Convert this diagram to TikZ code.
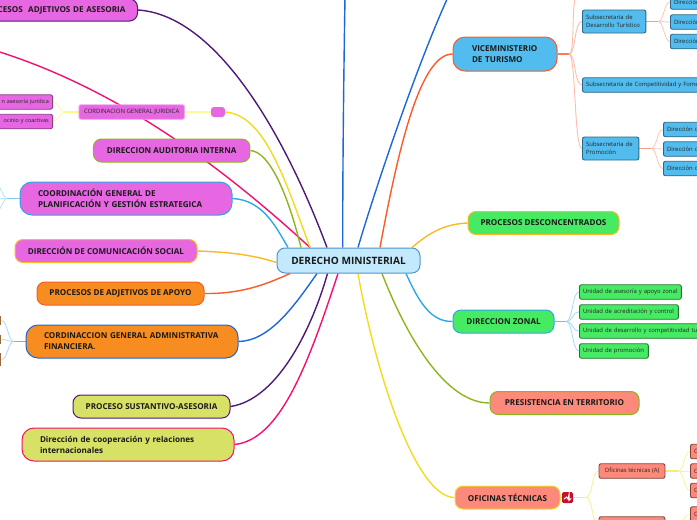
\documentclass[tikz,border=0pt]{standalone}
\usepackage{fontspec}
\setmainfont{Open Sans}
\usetikzlibrary{backgrounds}
\definecolor{cielo}{HTML}{C3E9FC}
\definecolor{marco}{HTML}{4F94CF}
\definecolor{magenta1}{HTML}{E766E2}
\definecolor{naranja}{HTML}{F78C20}
\definecolor{limon}{HTML}{D7E166}
\definecolor{azul1}{HTML}{52BCEE}
\definecolor{verde1}{HTML}{46EB63}
\definecolor{salmon1}{HTML}{FD897A}
\definecolor{morado}{HTML}{4E1A78}
\definecolor{rosa}{HTML}{F50F70}
\definecolor{amarillo}{HTML}{F3DC1C}
\definecolor{oliva}{HTML}{8DB51E}
\definecolor{celeste}{HTML}{2BA9E6}
\definecolor{oro}{HTML}{FDB924}
\definecolor{coral}{HTML}{FC5A28}
\definecolor{rey}{HTML}{1C68D8}
\definecolor{cafe}{HTML}{9A6A3A}
\definecolor{rojo1}{HTML}{C8102E}
\tikzset{
	box1/.style={
		rectangle,
		rounded corners=8pt,
		line width=1pt,
		inner sep=0pt,
		minimum height=23pt,
		font=\fontsize{8.1}{11}\selectfont\bfseries,
		text=black!90,
		align=center},
	box2/.style={
		box1,
		rounded corners=12pt,
		minimum height=33pt,
		inner xsep=18pt,
		align=left},
	box3/.style={
		rectangle,
		rounded corners=2pt,
		line width=.9pt,
		inner xsep=3.7pt,
		inner ysep=0pt,
		minimum height=14.5pt,
		font=\fontsize{5.9}{8}\selectfont,
		text=black!85,
		align=left},
	rama/.style={line width=1.4pt},
	hilo/.style={line width=.9pt},
	talo/.style={line width=1.3pt}
}
\begin{document}
\begin{tikzpicture}[x=1pt,y=-1pt]
\useasboundingbox (0,0) rectangle (697,520);
\node[box1, fill=cielo, draw=marco, minimum width=143pt, minimum height=25pt, font=\fontsize{10.1}{11}\selectfont\bfseries] (dm) at (348.5,260.5) {DERECHO MINISTERIAL};
% lado izquierdo
\node[box1, fill=magenta1, draw=morado, anchor=east, text width=186pt, inner xsep=12pt, align=right, minimum height=22pt] (asesoria) at (138,10) {CESOS\ \ ADJETIVOS DE ASESORIA};
\node[box3, fill=magenta1, draw=magenta1!60!white, minimum width=105.5pt, align=center, font=\fontsize{6}{8}\selectfont] (juridica) at (131.7,112) {CORDINACION GENERAL JURIDICA};
\node[fill=magenta1, rounded corners=3pt, minimum width=14pt, minimum height=10pt, inner sep=0pt] (punto) at (218,112) {};
\node[box3, fill=magenta1, draw=magenta1!60!black, anchor=east, text width=70pt, align=right, font=\fontsize{5.5}{8}\selectfont] (jur1) at (53,102) {n asesoría jurídica};
\node[box3, fill=magenta1, draw=magenta1!60!black, anchor=east, text width=70pt, align=right, font=\fontsize{5.5}{8}\selectfont] (jur2) at (53,121.5) {ocinio y coactivas};
\node[box1, fill=magenta1, draw=oliva, minimum width=156.5pt] (auditoria) at (171.7,150.5) {DIRECCION AUDITORIA INTERNA};
\node[box2, fill=magenta1, draw=celeste, text width=176pt] (planif) at (126,198.5) {COORDINACIÓN GENERAL DE\\PLANIFICACIÓN Y GESTIÓN ESTRATEGICA};
\node[box1, fill=magenta1, draw=oro, minimum width=182pt] (comunic) at (106,251) {DIRECCIÓN DE COMUNICACIÓN SOCIAL};
\node[box1, fill=naranja, draw=coral, minimum width=167pt] (apoyo) at (120.5,293.5) {PROCESOS DE ADJETIVOS DE APOYO};
\node[box2, fill=naranja, draw=rey, text width=176pt] (financiera) at (132,341.5) {CORDINACCION GENERAL ADMINISTRATIVA\\FINANCIERA.};
\node[fill=cafe, anchor=east, minimum width=6pt, minimum height=9pt, inner sep=0pt] (fin1) at (1.5,320.5) {};
\node[fill=cafe, anchor=east, minimum width=6pt, minimum height=9pt, inner sep=0pt] (fin2) at (1.5,339.5) {};
\node[fill=cafe, anchor=east, minimum width=6pt, minimum height=13pt, inner sep=0pt] (fin3) at (1.5,359.5) {};
\node[box1, fill=limon, draw=morado, minimum width=157pt] (sustantivo) at (151.5,406.5) {PROCESO SUSTANTIVO-ASESORIA};
\node[box2, fill=limon, draw=rosa, text width=176pt] (cooperacion) at (128,444.5) {Dirección de cooperación y relaciones\\internacionales};
% lado derecho
\node[box2, fill=azul1, draw=coral, inner xsep=19pt, text width=66pt, minimum height=34pt] (vice) at (505,54) {VICEMINISTERIO\\DE TURISMO};
\node[box3, fill=azul1, draw=azul1!55!black, minimum height=23pt, anchor=west, text width=56pt] (desarrollo) at (582,21.5) {Subsecretaria de\\Desarrollo Turístico};
\node[box3, fill=azul1, draw=azul1!55!black, anchor=west, text width=170pt] (compet) at (582,85) {Subsecretaria de Competitividad y Fomento};
\node[box3, fill=azul1, draw=azul1!55!black, minimum height=23pt, anchor=west, text width=49pt] (promocion) at (582,148.5) {Subsecretaria de\\Promoción};
\node[box3, fill=azul1, draw=azul1!55!black, anchor=west, text width=50pt] (des1) at (670,2) {Dirección de};
\node[box3, fill=azul1, draw=azul1!55!black, anchor=west, text width=50pt] (des2) at (670,22) {Dirección de};
\node[box3, fill=azul1, draw=azul1!55!black, anchor=west, text width=50pt] (des3) at (670,41.5) {Dirección de};
\node[box3, fill=azul1, draw=azul1!55!black, anchor=west, text width=50pt] (pro1) at (663,129.5) {Dirección de};
\node[box3, fill=azul1, draw=azul1!55!black, anchor=west, text width=50pt] (pro2) at (663,149) {Dirección de};
\node[box3, fill=azul1, draw=azul1!55!black, anchor=west, text width=50pt] (pro3) at (663,168.5) {Dirección de};
\node[box1, fill=verde1, draw=oro, minimum width=151pt] (descon) at (543.5,223) {PROCESOS DESCONCENTRADOS};
\node[box1, fill=verde1, draw=celeste, minimum width=101pt] (zonal) at (503.5,321.5) {DIRECCION ZONAL};
\node[box3, fill=verde1, draw=verde1!50!black, anchor=west, text width=94.5pt] (uni1) at (579,292) {Unidad de asesoría y apoyo zonal};
\node[box3, fill=verde1, draw=verde1!50!black, anchor=west, text width=91.5pt] (uni2) at (579,312) {Unidad de acreditación y control};
\node[box3, fill=verde1, draw=verde1!50!black, anchor=west, text width=140pt] (uni3) at (579,331) {Unidad de desarrollo y competitividad tu};
\node[box3, fill=verde1, draw=verde1!50!black, anchor=west, text width=61.5pt] (uni4) at (579,351) {Unidad de promoción};
\node[box1, fill=salmon1, draw=oliva, minimum width=149pt] (presist) at (564.5,403) {PRESISTENCIA EN TERRITORIO};
\node[box1, fill=salmon1, draw=amarillo, minimum width=105pt] (oficinas) at (507.5,497.5) {OFICINAS TÉCNICAS};
\node[fill=rojo1, rounded corners=1.5pt, minimum width=11pt, minimum height=11pt, inner sep=0pt] (icono) at (567.5,497.5) {};
\node[box3, fill=salmon1, draw=salmon1!50!black, minimum width=66pt, align=center] (ofa) at (632,471) {Oficinas técnicas (A)};
\node[box3, fill=salmon1, draw=salmon1!50!black, minimum width=66pt] (ofb) at (632,524) {};
\node[box3, fill=salmon1, draw=salmon1!50!black, anchor=west, text width=40pt] (ofa1) at (690,451.5) {Oficina};
\node[box3, fill=salmon1, draw=salmon1!50!black, anchor=west, text width=40pt] (ofa2) at (690,471) {Oficina};
\node[box3, fill=salmon1, draw=salmon1!50!black, anchor=west, text width=40pt] (ofa3) at (690,490.5) {Oficina};
\node[box3, fill=salmon1, draw=salmon1!50!black, anchor=west, text width=40pt] (ofb1) at (690,514) {Oficina};
\draw[white, line width=1pt, line cap=round] ([shift={(-3.5,1.5)}]icono.center) -- ([shift={(-1,-.5)}]icono.center) -- ([shift={(.5,1.5)}]icono.center) -- ([shift={(1.5,-3)}]icono.center) -- ([shift={(1.5,3)}]icono.center) -- ([shift={(3.5,1)}]icono.center);
% puntos libres
\coordinate (librepink) at (-10,49);
\coordinate (libreazul) at (345,-3);
\coordinate (libreazul2) at (448,-3);
\coordinate (planif1) at (-5,180);
\coordinate (planif2) at (-5,199);
\coordinate (planif3) at (-5,216);
\coordinate (desarriba) at (578,-5);
\coordinate (hubjur) at (65,112);
\coordinate (hubplan) at (7,198.5);
\coordinate (hubfin) at (14,341.5);
\coordinate (hubvice) at (569,54);
\coordinate (hubdes) at (658,21.5);
\coordinate (hubpro) at (651,148.5);
\coordinate (hubzon) at (566,321.5);
\coordinate (hubofi) at (586,497.5);
\coordinate (hubofa) at (678,471);
\coordinate (hubofb) at (678,524);
\begin{scope}[on background layer]
% ramas principales
\draw[rama, morado] (asesoria.east) .. controls (215,15) and (283,130) .. ([xshift=-21.5pt]dm.north);
\draw[rama, rosa] (librepink) .. controls (110,85) and (215,160) .. ([xshift=-38.5pt]dm.north);
\draw[rama, amarillo] (punto.east) .. controls (265,115) and (285,180) .. ([xshift=-38.5pt]dm.north);
\draw[rama, oliva] (auditoria.east) .. controls (270,152) and (288,195) .. ([xshift=-47.5pt]dm.north);
\draw[rama, celeste] (planif.east) .. controls (262,200) and (275,225) .. ([xshift=-60.5pt]dm.north);
\draw[rama, oro] (comunic.east) .. controls (225,252) and (250,254) .. ([yshift=-2pt]dm.west);
\draw[rama, coral] (apoyo.east) .. controls (240,294) and (265,285) .. ([xshift=-58.5pt]dm.south);
\draw[rama, rey] (financiera.east) .. controls (270,341) and (295,305) .. ([xshift=-31.5pt]dm.south);
\draw[rama, morado] (sustantivo.east) .. controls (275,400) and (310,335) .. ([xshift=-21pt]dm.south);
\draw[rama, rosa] (cooperacion.east) .. controls (280,440) and (308,365) .. ([xshift=-10.5pt]dm.south);
\draw[rama, rey] ([xshift=-5.8pt]dm.north) .. controls (342.7,150) and (344,60) .. (libreazul);
\draw[rama, rey] ([xshift=9.5pt]dm.north) .. controls (375,190) and (415,70) .. (libreazul2);
\draw[rama, coral] ([xshift=31.5pt]dm.north) .. controls (398,150) and (420,54) .. (vice.west);
\draw[rama, oro] ([xshift=63.5pt]dm.north) .. controls (430,232) and (445,224) .. (descon.west);
\draw[rama, celeste] ([xshift=57.5pt]dm.south) .. controls (418,300) and (430,322) .. (zonal.west);
\draw[rama, oliva] ([xshift=33.5pt]dm.south) .. controls (400,320) and (440,403) .. (presist.west);
\draw[rama, amarillo] ([xshift=9.5pt]dm.south) .. controls (375,370) and (415,497) .. (oficinas.west);
% abanicos de la izquierda
\draw[talo, yellow!40] (punto.west) -- (juridica.east);
\draw[talo, yellow!50] (juridica.west) -- (hubjur);
\foreach \n in {jur1,jur2}
	\draw[hilo, yellow!35] (hubjur) .. controls +(-6,0) and ([xshift=6pt]\n.east) .. (\n.east);
\draw[talo, celeste!60] (planif.west) -- (hubplan);
\foreach \n in {planif1,planif2,planif3}
	\draw[hilo, celeste!30] (hubplan) .. controls +(-4,0) and ([xshift=3pt]\n) .. (\n);
\draw[talo, rey!55] (financiera.west) -- (hubfin);
\foreach \n in {fin1,fin2,fin3}
	\draw[hilo, rey!28] (hubfin) .. controls +(-6,0) and ([xshift=6pt]\n.east) .. (\n.east);
% abanicos de la derecha
\draw[talo, coral!80] (vice.east) -- (hubvice);
\foreach \n in {desarriba,desarrollo.west,compet.west,promocion.west}
	\draw[hilo, coral!40] (hubvice) .. controls +(7,0) and ([xshift=-8pt]\n) .. (\n);
\draw[talo, coral!60] (desarrollo.east) -- (hubdes);
\foreach \n in {des1,des2,des3}
	\draw[hilo, coral!32] (hubdes) .. controls +(6,0) and ([xshift=-6pt]\n.west) .. (\n.west);
\draw[talo, coral!60] (promocion.east) -- (hubpro);
\foreach \n in {pro1,pro2,pro3}
	\draw[hilo, coral!32] (hubpro) .. controls +(6,0) and ([xshift=-6pt]\n.west) .. (\n.west);
\draw[talo, celeste!70] (zonal.east) -- (hubzon);
\foreach \n in {uni1,uni2,uni3,uni4}
	\draw[hilo, celeste!40] (hubzon) .. controls +(7,0) and ([xshift=-7pt]\n.west) .. (\n.west);
\draw[talo, amarillo] (oficinas.east) -- (icono.west);
\draw[talo, amarillo!60] (icono.east) -- (hubofi);
\foreach \n in {ofa,ofb}
	\draw[hilo, amarillo!45] (hubofi) .. controls +(7,0) and ([xshift=-7pt]\n.west) .. (\n.west);
\draw[talo, amarillo!60] (ofa.east) -- (hubofa);
\foreach \n in {ofa1,ofa2,ofa3}
	\draw[hilo, amarillo!40] (hubofa) .. controls +(6,0) and ([xshift=-6pt]\n.west) .. (\n.west);
\draw[hilo, amarillo!40] (hubofb) .. controls +(6,0) and ([xshift=-6pt]ofb1.west) .. (ofb1.west);
\draw[talo, amarillo!60] (ofb.east) -- (hubofb);
\end{scope}
\end{tikzpicture}
\end{document}
